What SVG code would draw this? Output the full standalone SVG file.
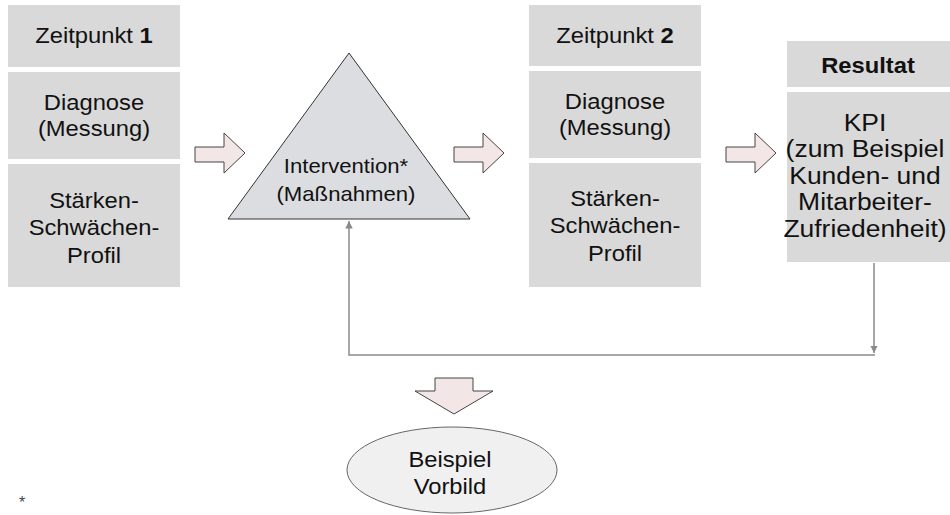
<svg xmlns="http://www.w3.org/2000/svg" width="950" height="515" viewBox="0 0 950 515">
<style>
.box{fill:#d9d9d9}
.t{font-family:"Liberation Sans",Arial,sans-serif;font-size:22px;fill:#111;text-anchor:middle;transform-box:fill-box;transform-origin:center;transform:scaleX(1.08)}
.k{font-size:24.5px}
.s{font-size:20.5px}
.b{font-weight:bold}
.ba{fill:#f3e6e6;stroke:#444;stroke-width:1}
.con{fill:none;stroke:#8a8a8a;stroke-width:1.5}
</style>
<defs>
<marker id="ah" viewBox="0 0 10 10" refX="10" refY="5" markerWidth="5" markerHeight="5" orient="auto-start-reverse">
<path d="M0,0 L10,5 L0,10 z" fill="#8a8a8a"/>
</marker>
</defs>
<rect width="950" height="515" fill="#fff"/>

<g id="zeitpunkt1">
<rect class="box" x="8" y="5" width="172" height="62"/>
<text class="t" x="94" y="43">Zeitpunkt <tspan class="b">1</tspan></text>
<rect class="box" x="8" y="72" width="172" height="87"/>
<text class="t" x="94" y="110">Diagnose</text>
<text class="t" x="94" y="136">(Messung)</text>
<rect class="box" x="8" y="164" width="172" height="123"/>
<text class="t" x="94" y="208">Stärken-</text>
<text class="t" x="94" y="235">Schwächen-</text>
<text class="t" x="94" y="263">Profil</text>
</g>

<g id="intervention">
<polygon points="349,53 470,219 228,219" fill="#dcdde0" stroke="#333" stroke-width="1"/>
<text class="t s" x="346" y="173">Intervention*</text>
<text class="t s" x="346" y="201">(Maßnahmen)</text>
</g>

<g id="zeitpunkt2">
<rect class="box" x="529" y="5" width="172" height="61"/>
<text class="t" x="615" y="43">Zeitpunkt <tspan class="b">2</tspan></text>
<rect class="box" x="529" y="71" width="172" height="87"/>
<text class="t" x="615" y="109">Diagnose</text>
<text class="t" x="615" y="135">(Messung)</text>
<rect class="box" x="529" y="163" width="172" height="124"/>
<text class="t" x="615" y="206">Stärken-</text>
<text class="t" x="615" y="233">Schwächen-</text>
<text class="t" x="615" y="261">Profil</text>
</g>

<g id="resultat">
<rect class="box" x="787" y="41" width="163" height="46"/>
<text class="t b" x="868" y="73">Resultat</text>
<rect class="box" x="787" y="92" width="163" height="170"/>
<text class="t k" x="865" y="131">KPI</text>
<text class="t k" x="865" y="157">(zum Beispiel</text>
<text class="t k" x="865" y="184">Kunden- und</text>
<text class="t k" x="865" y="210">Mitarbeiter-</text>
<text class="t k" x="865" y="237">Zufriedenheit)</text>
</g>

<g id="vorbild">
<ellipse cx="452" cy="470" rx="105" ry="43" fill="#f0f0f0" stroke="#666" stroke-width="1"/>
<text class="t" x="450" y="467">Beispiel</text>
<text class="t" x="450" y="494">Vorbild</text>
</g>

<g id="connectors">
<path class="ba" d="M195,147 H224 V133 L245,153 L224,173 V162 H195 Z"/>
<path class="ba" d="M454,147 H483 V133 L504,153 L483,173 V162 H454 Z"/>
<path class="ba" d="M726,147 H755 V133 L776,153 L755,173 V162 H726 Z"/>
<path class="ba" d="M435,378 H473 V391 H493 L454,414 L415,391 H435 Z"/>
<path class="con" d="M874,263 V353" marker-end="url(#ah)"/>
<path class="con" d="M875,355 H349 V221" marker-end="url(#ah)"/>
</g>

<text x="22" y="508" font-family="Liberation Sans, Arial, sans-serif" font-size="16" fill="#444" text-anchor="middle">*</text>
</svg>
